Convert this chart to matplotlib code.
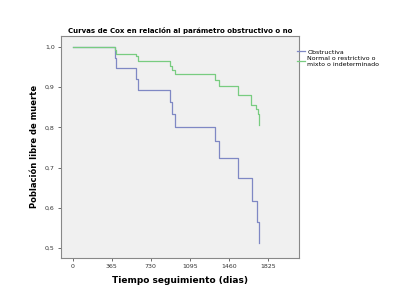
import matplotlib
matplotlib.use("Agg")
import matplotlib.pyplot as plt

# tiempos (dias) y supervivencia tras cada evento
t_obs = [0, 395, 400, 404, 595, 607, 909, 928, 956, 1330, 1370, 1548, 1676, 1719, 1744]
s_obs = [1.0, 0.984, 0.973, 0.947, 0.919, 0.893, 0.864, 0.834, 0.801, 0.766, 0.724, 0.673, 0.617, 0.564, 0.512]

t_norm = [0, 395, 404, 591, 607, 909, 928, 956, 1330, 1370, 1548, 1663, 1715, 1728, 1744]
s_norm = [1.0, 0.991, 0.982, 0.976, 0.966, 0.953, 0.943, 0.933, 0.918, 0.902, 0.881, 0.856, 0.845, 0.832, 0.806]

xticks = [0, 365, 730, 1095, 1460, 1825]
yticks = [0.5, 0.6, 0.7, 0.8, 0.9, 1.0]

fig = plt.figure(figsize=(4.04, 3.04), dpi=100)
fig.patch.set_facecolor("white")
ax = fig.add_axes([0.151, 0.151, 0.588, 0.732])
ax.set_facecolor("#f0f0f0")

ax.plot(t_obs, s_obs, drawstyle="steps-post", color="#7f88c4", lw=0.9, label="Obstructiva")
ax.plot(t_norm, s_norm, drawstyle="steps-post", color="#78cc80", lw=0.9,
        label="Normal o restrictivo o\nmixto o indeterminado")

ax.set_xlim(-109, 2110)
ax.set_ylim(0.475, 1.028)
ax.set_xticks(xticks)
ax.set_xticklabels([str(v) for v in xticks])
ax.set_yticks(yticks)
ax.set_yticklabels([f"{v:.1f}".replace(".", ",") for v in yticks])
ax.tick_params(labelsize=4.5, length=2.5, width=0.6, color="#555555", labelcolor="#333333", pad=2)

for sp in ax.spines.values():
    sp.set_color("#888888")
    sp.set_linewidth(0.8)

ax.set_title("Curvas de Cox en relación al parámetro obstructivo o no",
             fontsize=5, fontweight="bold", pad=2)
ax.set_xlabel("Tiempo seguimiento (dias)", fontsize=6.5, fontweight="bold", labelpad=5)
ax.set_ylabel("Población libre de muerte", fontsize=6, fontweight="bold", labelpad=4)

ax.legend(loc="upper left", bbox_to_anchor=(0.985, 0.95), fontsize=4.5, frameon=False,
          handlelength=1.2, handletextpad=0.4, labelspacing=0.2, borderaxespad=0)

fig.savefig("out.png", dpi=100)
